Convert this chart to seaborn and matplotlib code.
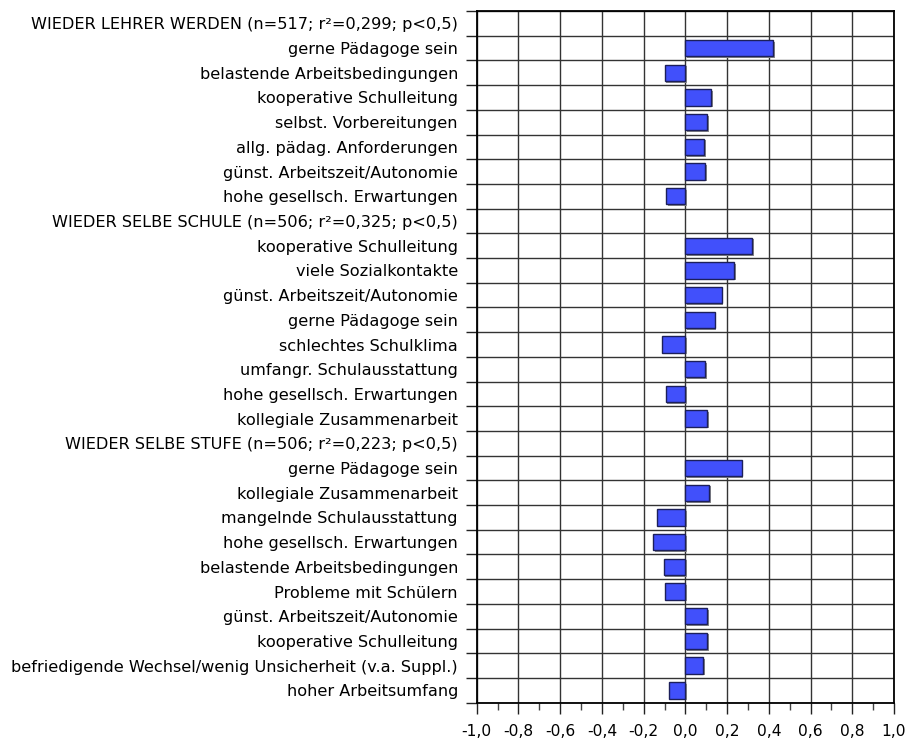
import numpy as np
import pandas as pd
import matplotlib
matplotlib.use("Agg")
import matplotlib.pyplot as plt
import matplotlib.patheffects as pe
from matplotlib.ticker import MultipleLocator, FixedLocator
import seaborn as sns

# Regression coefficients per model (header rows carry no bar)
header_lehrer = "WIEDER LEHRER WERDEN (n=517; r²=0,299; p<0,5)"
items_lehrer = ["gerne Pädagoge sein", "belastende Arbeitsbedingungen",
                "kooperative Schulleitung", "selbst. Vorbereitungen",
                "allg. pädag. Anforderungen", "günst. Arbeitszeit/Autonomie",
                "hohe gesellsch. Erwartungen"]
values_lehrer = [0.42, -0.10, 0.125, 0.105, 0.09, 0.094, -0.092]

header_schule = "WIEDER SELBE SCHULE (n=506; r²=0,325; p<0,5)"
items_schule = ["kooperative Schulleitung", "viele Sozialkontakte",
                "günst. Arbeitszeit/Autonomie", "gerne Pädagoge sein",
                "schlechtes Schulklima", "umfangr. Schulausstattung",
                "hohe gesellsch. Erwartungen", "kollegiale Zusammenarbeit"]
values_schule = [0.32, 0.235, 0.174, 0.14, -0.11, 0.094, -0.094, 0.105]

header_stufe = "WIEDER SELBE STUFE (n=506; r²=0,223; p<0,5)"
items_stufe = ["gerne Pädagoge sein", "kollegiale Zusammenarbeit",
               "mangelnde Schulausstattung", "hohe gesellsch. Erwartungen",
               "belastende Arbeitsbedingungen", "Probleme mit Schülern",
               "günst. Arbeitszeit/Autonomie", "kooperative Schulleitung",
               "befriedigende Wechsel/wenig Unsicherheit (v.a. Suppl.)",
               "hoher Arbeitsumfang"]
values_stufe = [0.27, 0.115, -0.137, -0.155, -0.104, -0.098, 0.105, 0.105,
                0.084, -0.08]

x_ticks = [-1.0, -0.8, -0.6, -0.4, -0.2, 0.0, 0.2, 0.4, 0.6, 0.8, 1.0]

labels, values = [], []
for head, items, vals in [(header_lehrer, items_lehrer, values_lehrer),
                          (header_schule, items_schule, values_schule),
                          (header_stufe, items_stufe, values_stufe)]:
    labels.append(head)
    values.append(np.nan)
    labels.extend(items)
    values.extend(vals)

df = pd.DataFrame({"key": [f"r{i:02d}" for i in range(len(labels))],
                   "label": labels, "wert": values})
order = list(df["key"])

sns.set_theme(style="white")
plt.rcParams["font.family"] = ["DejaVu Sans"]

fig = plt.figure(figsize=(9.07, 7.40), dpi=100)
ax = fig.add_axes([0.5256, 0.0504, 0.9857 - 0.5256, 0.9851 - 0.0504])

sns.barplot(data=df.dropna(), x="wert", y="key", order=order, orient="h",
            color="#4150fb", saturation=1, width=0.66,
            edgecolor="#1c1f5a", linewidth=1.0, ax=ax, zorder=3)

for patch in ax.patches:
    patch.set_path_effects([pe.SimplePatchShadow(offset=(1.2, -1.2),
                                                 shadow_rgbFace="#8a8a8a",
                                                 alpha=1.0),
                            pe.Normal()])

n = len(labels)
ax.set_xlim(-1.0, 1.0)
ax.set_ylim(n - 0.5, -0.5)

# Row labels centred in rows; ticks and grid on row boundaries
ax.set_yticks(np.arange(n))
ax.set_yticklabels(labels, color="black")
ax.tick_params(axis="y", which="major", length=0, pad=13.5, labelsize=11.6)
ax.yaxis.set_minor_locator(FixedLocator(np.arange(n + 1) - 0.5))
ax.tick_params(axis="y", which="minor", length=8, width=1.0, color="#222222",
               direction="out", left=True)

ax.set_xticks(x_ticks)
ax.set_xticklabels([f"{t:.1f}".replace(".", ",") for t in x_ticks],
                   color="black")
ax.xaxis.set_minor_locator(MultipleLocator(0.1))
ax.tick_params(axis="x", which="major", length=8, width=1.0, color="#222222",
               direction="out", bottom=True, pad=7, labelsize=11.2)
ax.tick_params(axis="x", which="minor", length=5, width=1.0, color="#444444",
               direction="out", bottom=True)

ax.set_axisbelow(True)
ax.grid(False)
ax.xaxis.grid(True, which="major", color="#333333", linewidth=1.0, zorder=1)
ax.yaxis.grid(True, which="minor", color="#333333", linewidth=1.0, zorder=1)

for s in ax.spines.values():
    s.set_visible(True)
    s.set_color("black")
    s.set_linewidth(1.3)

ax.set_xlabel("")
ax.set_ylabel("")

fig.savefig("out.png", dpi=100)
